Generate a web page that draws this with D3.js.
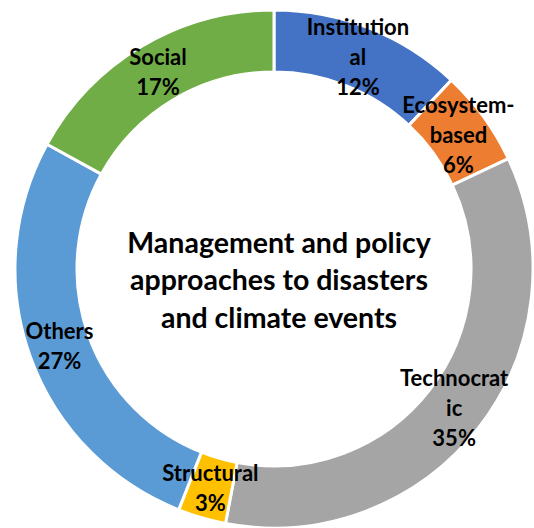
<!DOCTYPE html>
<html>
<head>
<meta charset="utf-8">
<script src="https://cdn.jsdelivr.net/npm/d3@7/dist/d3.min.js"></script>
<style>
  html, body { margin: 0; padding: 0; background: #fff; }
  svg { display: block; }
  text { font-family: Lato, "Open Sans", sans-serif; font-weight: 700; fill: #000; }
</style>
</head>
<body>
<svg id="chart" width="534" height="528"></svg>
<script>
// Share of approaches, clockwise from 12 o'clock
const categories = ["Institutional", "Ecosystem-based", "Technocratic", "Structural", "Others", "Social"];
const shares = [12, 6, 35, 3, 27, 17];
// Wrapped category labels as they appear inside the ring
const labelLines = [
  ["Institution", "al"],
  ["Ecosystem-", "based"],
  ["Technocrat", "ic"],
  ["Structural"],
  ["Others"],
  ["Social"]
];
const colors = ["#4472C4", "#ED7D31", "#A5A5A5", "#FFC000", "#5B9BD5", "#70AD47"];
const titleLines = ["Management and policy", "approaches to disasters", "and climate events"];

const svg = d3.select("#chart");
const cx = 274, cy = 269;
const outerR = 259, innerR = 197;

const data = categories.map((c, i) => ({ name: c, value: shares[i], lines: labelLines[i], color: colors[i] }));

const pie = d3.pie().value(d => d.value).sort(null);
const arc = d3.arc().innerRadius(innerR).outerRadius(outerR);

const g = svg.append("g").attr("transform", `translate(${cx},${cy})`);
const arcs = pie(data);

g.selectAll("path.slice")
  .data(arcs)
  .join("path")
  .attr("class", "slice")
  .attr("d", arc)
  .attr("fill", d => d.data.color)
  .attr("stroke", "#fff")
  .attr("stroke-width", 3)
  .attr("stroke-linejoin", "miter");

// Data labels: category name plus percentage, centred on each segment
const lineH = 30;
g.selectAll("text.lbl")
  .data(arcs)
  .join("text")
  .attr("class", "lbl")
  .attr("text-anchor", "middle")
  .attr("font-size", 22)
  .each(function(d) {
    const [x, y] = arc.centroid(d);
    const lines = d.data.lines.concat([d.data.value + "%"]);
    const y0 = y - (lines.length - 1) * lineH / 2;
    const t = d3.select(this);
    lines.forEach((s, i) => {
      t.append("tspan")
        .attr("x", x)
        .attr("y", y0 + i * lineH)
        .attr("dy", "0.35em")
        .text(s);
    });
  });

// Centre title
const title = svg.append("text")
  .attr("text-anchor", "middle")
  .attr("font-size", 28.5);
titleLines.forEach((s, i) => {
  title.append("tspan")
    .attr("x", 279)
    .attr("y", 243 + i * 37.5)
    .attr("dy", "0.35em")
    .text(s);
});
</script>
</body>
</html>
